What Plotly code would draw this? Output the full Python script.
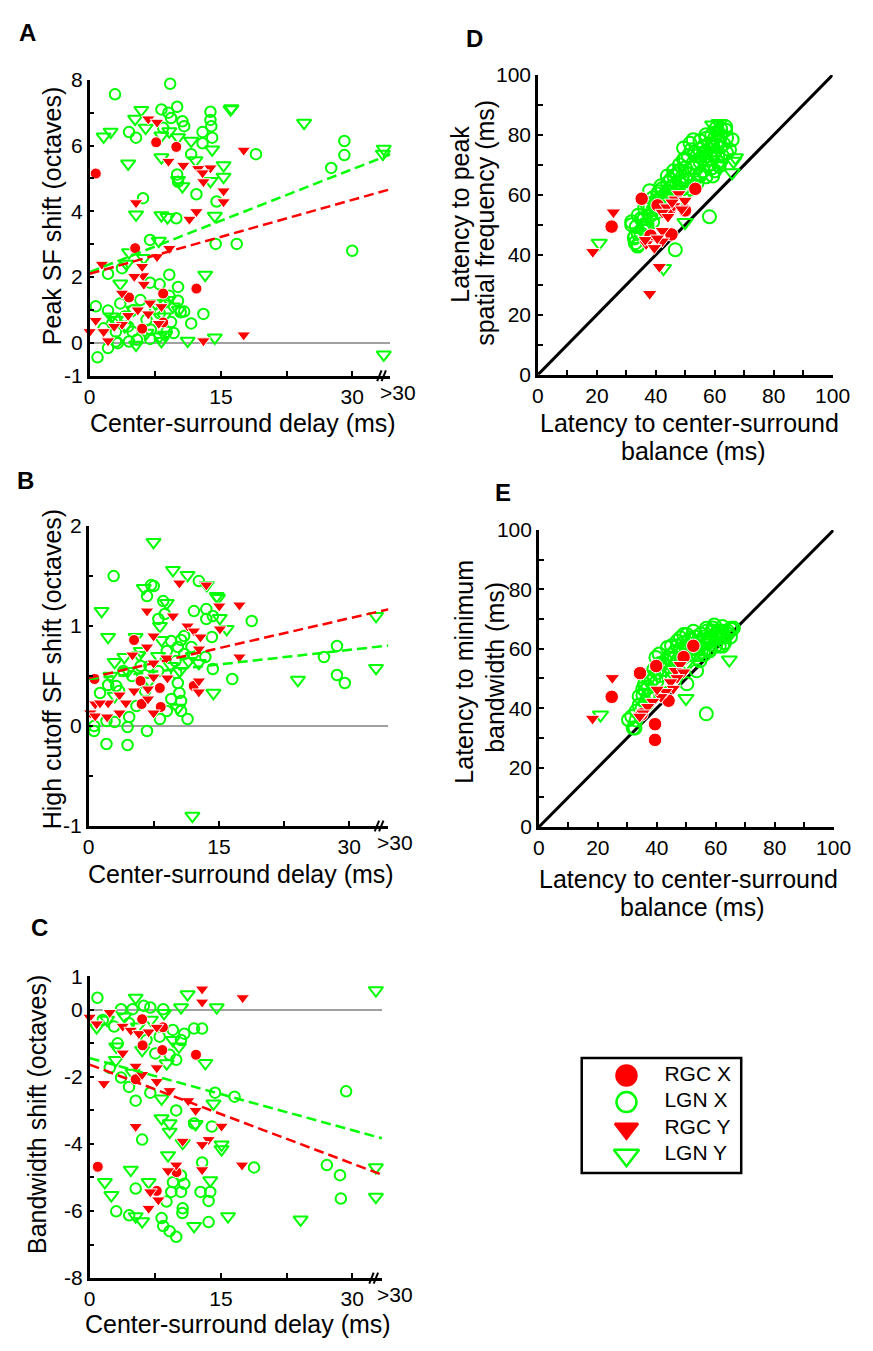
import plotly.graph_objects as go

FONT = "Arial, Liberation Sans, Helvetica, sans-serif"
RED = "#FF0000"
GREEN = "#00FF00"
W, H = 873, 1351

# ---------------- Panel A: Peak SF shift vs center-surround delay ----------------
A_rgcx_x = [0.7, 7.6, 9.9, 5.2, 8.4, 4.5, 12.2, 6.0, 8.4]
A_rgcx_y = [5.15, 6.1, 5.96, 2.88, 1.5, 1.38, 1.65, 0.43, 0.62]
A_rgcy_x = [6.7, 7.7, 9.0, 10.7, 12.4, 13.8, 12.9, 13.0, 15.3, 15.3, 11.4, 12.2, 17.6, 5.3, 9.1, 1.4, 6.0, 7.7,
            6.1, 5.1, 6.2, 3.7, 6.9, 4.4, 6.7, 3.7, 7.9, 0.7, 0.0, 1.6, 2.1, 13.0, 17.6, 5.5, 2.8, 8.2]
A_rgcy_y = [6.81, 6.71, 5.52, 5.40, 5.30, 5.32, 5.17, 4.90, 4.62, 4.29, 3.76, 3.99, 5.86, 4.26, 2.87, 2.39, 2.32, 2.62,
            2.04, 2.02, 1.78, 1.51, 1.21, 0.83, 0.88, 0.56, 0.59, 0.68, 0.34, 0.34, 0.06, 0.06, 0.24, 1.0, 0.5, 1.1]
A_lgnx_x = [2.9, 9.2, 8.2, 10.0, 9.0, 9.3, 10.6, 10.8, 8.4, 13.8, 13.8, 13.9, 12.9, 14.0, 12.9, 11.6, 12.2, 10.0,
            14.5, 10.1, 4.5, 5.3, 6.1, 9.9, 6.9, 14.4, 16.8, 19.0, 2.1, 3.7, 9.1, 10.1, 0.7, 2.1, 10.8, 11.6, 13.0,
            0.9, 2.1, 3.0, 4.5, 5.4, 6.9, 4.9, 3.0, 1.6, 8.8, 9.3, 8.6, 9.1, 10.1, 10.4, 7.5, 8.0, 6.9,
            27.6, 29.1, 29.1, 30.0, 3.2, 4.0, 5.0, 6.5, 3.5, 7.0, 8.0, 2.6, 5.8, 9.6, 4.4]
A_lgnx_y = [7.56, 7.88, 7.10, 7.18, 7.00, 6.84, 6.74, 6.59, 6.54, 7.03, 6.78, 6.59, 6.41, 6.24, 6.07, 5.74, 4.52, 5.12,
            4.30, 4.90, 6.41, 6.24, 4.40, 3.79, 3.13, 3.01, 3.01, 5.74, 2.10, 2.27, 2.07, 1.70, 1.11, 0.98, 0.95, 0.59, 0.88,
            -0.44, -0.16, 0.04, 0.04, 0.09, 0.12, 0.34, 0.34, 0.44, 0.34, 0.63, 1.23, 1.43, 1.28, 0.93, 1.03, 1.78, 1.83,
            5.32, 5.71, 6.14, 2.80, -0.01, 0.8, 1.0, 0.7, 1.2, 0.4, 0.9, 0.6, 1.3, 0.3, 0.5]
A_lgny_x = [1.6, 2.4, 5.9, 5.2, 6.4, 9.1, 8.2, 10.1, 11.6, 16.1, 4.4, 8.2, 12.1, 14.0, 15.3, 15.3, 10.1, 10.6, 13.8,
            5.3, 8.2, 8.9, 14.3, 13.2, 7.9, 4.5, 6.2, 11.2, 14.3, 8.0, 33.6, 33.6, 33.5, 24.5, 16.2,
            5.0, 7.5, 8.5, 9.5, 3.0, 4.0, 6.5, 8.2, 2.5, 9.0, 10.2, 5.3, 8.6, 3.5, 4.2]
A_lgny_y = [6.27, 6.42, 7.08, 6.81, 6.54, 6.43, 6.30, 6.25, 6.14, 7.10, 5.45, 5.64, 5.55, 5.88, 5.40, 5.05, 4.95, 4.76, 4.92,
            3.90, 3.88, 3.82, 3.86, 2.07, 3.10, 2.75, 2.58, 0.06, 0.16, 0.19, -0.36, 5.90, 5.75, 6.69, 7.13,
            1.0, 1.2, 0.8, 1.1, 0.7, 0.5, 0.3, 0.05, 0.8, 1.3, 1.0, -0.06, 0.24, 1.8, 2.4]
A_fit_green = [2.15, 0.1043]   # intercept, slope
A_fit_red = [2.10, 0.0749]

# ---------------- Panel B: High cutoff SF shift ----------------
B_rgcx_x = [0.67, 5.23, 5.97, 8.2, 8.3, 6.1, 12.1]
B_rgcx_y = [0.47, 0.86, 0.45, 0.38, 0.19, 0.22, 0.40]
B_rgcy_x = [10.45, 13.55, 6.72, 9.71, 15.04, 17.36, 11.39, 12.13, 12.88, 15.12, 12.69, 17.36, 7.47, 6.72, 5.04, 7.47,
            8.96, 7.47, 9.07, 12.69, 12.69, 3.55, 5.23, 6.83, 6.83, 2.24, 0.75, 1.31, 4.29, 0.19, 0.75, 2.13, 3.55, 7.47]
B_rgcy_y = [1.43, 1.41, 1.15, 1.10, 1.20, 1.21, 1.00, 0.95, 0.89, 0.97, 0.77, 0.69, 0.90, 0.79, 0.71, 0.63,
            0.68, 0.49, 0.48, 0.45, 0.34, 0.31, 0.35, 0.37, 0.27, 0.23, 0.22, 0.23, 0.23, 0.13, 0.10, 0.09, 0.13, 0.13]
B_lgnx_x = [2.88, 7.2, 6.72, 8.59, 8.77, 8.03, 12.13, 12.69, 13.55, 13.55, 14.3, 14.19, 18.78, 10.64, 10.27, 11.01,
            11.84, 13.44, 14.3, 16.54, 10.08, 10.27, 10.45, 10.64, 9.52, 10.64, 11.39, 8.21, 6.72, 4.67, 2.99, 4.48,
            2.05, 0.64, 0.62, 2.05, 4.48, 2.24, 1.31, 3.17, 4.0, 5.0, 6.0, 7.0, 8.0, 9.0, 9.5, 11.0, 10.0, 3.5, 5.5,
            9.0, 6.5, 7.5, 27.1, 28.6, 28.6, 29.5]
B_lgnx_y = [1.50, 1.41, 1.30, 1.25, 1.12, 1.07, 1.15, 1.45, 1.17, 1.07, 1.10, 0.89, 1.05, 0.86, 0.79, 0.72,
            0.79, 0.69, 0.57, 0.47, 0.53, 0.43, 0.33, 0.25, 0.27, 0.15, 0.07, 0.07, -0.05, 0.09, 0.04, -0.01,
            0.05, 0.00, -0.05, -0.18, -0.19, 0.41, 0.33, 0.40, 0.55, 0.50, 0.60, 0.60, 0.55, 0.75, 0.85, 0.90, 0.65, 0.35, 0.20,
            0.15, 0.35, 1.40, 0.69, 0.80, 0.51, 0.43]
B_lgny_x = [7.47, 9.71, 11.39, 14.75, 1.49, 2.24, 6.35, 2.99, 5.41, 14.37, 8.4, 5.79, 4.11, 12.69, 8.21, 10.27,
            14.9, 15.1, 15.9, 9.0, 24.1, 33.1, 33.1, 11.95, 13.6, 6.0, 8.0, 9.5, 4.5, 7.0, 10.5, 11.5, 3.0, 2.5, 12.0]
B_lgny_y = [1.84, 1.56, 1.51, 1.30, 1.15, 0.89, 1.38, 0.64, 0.89, 0.33, 0.86, 0.71, 0.69, 0.63, 1.00, 0.18,
            1.28, 1.08, 0.97, 1.23, 0.46, 0.58, 1.10, -0.90, 1.41, 0.75, 0.70, 0.60, 0.55, 0.45, 0.55, 0.65, 0.30, 0.50, 0.70]
B_fit_green = [0.47, 0.0097]
B_fit_red = [0.48, 0.0199]

# ---------------- Panel C: Bandwidth shift ----------------
C_rgcx_x = [0.93, 6.0, 8.37, 6.05, 8.3, 12.15, 5.26, 9.93, 7.67]
C_rgcx_y = [-4.68, -0.28, -0.52, -1.06, -1.20, -1.34, -2.07, -4.84, -5.40]
C_rgcy_x = [12.85, 12.85, 17.48, 0.0, 0.81, 2.3, 3.78, 4.7, 5.63, 6.74, 7.67, 3.78, 5.26, 6.0, 7.67, 7.67, 1.63,
            9.14, 11.26, 12.11, 15.07, 5.26, 10.63, 13.59, 12.85, 9.89, 8.96, 12.85, 17.41, 6.93, 7.85, 6.74]
C_rgcy_y = [0.62, 0.23, 0.36, -0.22, -0.42, -0.08, -0.49, -0.61, -0.71, -0.66, -0.52, -1.29, -1.68, -1.93, -1.73, -2.14, -2.20,
            -2.41, -2.71, -3.00, -3.47, -3.48, -3.92, -3.87, -4.02, -4.63, -4.80, -4.77, -4.63, -5.43, -5.67, -5.92]
C_lgnx_x = [0.89, 3.59, 4.9, 6.19, 6.93, 8.41, 12.85, 11.93, 10.81, 10.44, 9.89, 9.14, 2.3, 3.59, 5.26, 6.93, 6.0,
            14.33, 16.56, 9.89, 11.93, 13.96, 12.85, 18.78, 5.26, 3.04, 4.52, 8.22, 8.41, 9.89, 9.14, 10.63, 13.59,
            10.44, 10.81, 9.52, 12.67, 13.78, 13.59, 10.44, 8.78, 9.33, 27.1, 28.6, 28.7, 29.3,
            1.5, 2.8, 4.5, 6.5, 8.0, 9.5, 3.2, 7.5, 10.6, 4.5]
C_lgnx_y = [0.36, 0.02, 0.02, 0.12, 0.07, 0.02, -0.56, -0.56, -0.71, -0.90, -1.49, -1.34, -1.73, -2.02, -2.71, -2.47, -3.87,
            -2.47, -2.59, -3.00, -3.39, -3.48, -4.55, -4.70, -5.33, -6.01, -6.13, -6.21, -6.45, -6.77, -6.60, -5.92, -6.33,
            -5.43, -5.19, -5.14, -5.43, -5.43, -5.70, -4.94, -5.72, -5.43, -4.63, -4.93, -5.63, -2.43,
            -0.3, -0.5, -0.4, -0.9, -0.8, -0.6, -1.0, -1.3, -6.06, -2.3]
C_lgny_x = [5.26, 11.19, 14.52, 10.44, 0.81, 3.04, 13.22, 4.9, 8.22, 14.15, 8.22, 9.14, 9.14, 12.11, 10.63, 15.07,
            15.07, 4.7, 8.96, 1.74, 2.48, 6.74, 13.78, 5.26, 6.0, 11.93, 15.81, 32.7, 32.7, 32.7, 24.1,
            2.0, 4.0, 5.5, 7.0, 8.5, 9.5, 6.0, 8.8, 3.0, 10.2]
C_lgny_y = [0.36, 0.46, 0.07, 0.07, -0.52, -1.10, -1.59, -1.88, -2.65, -2.80, -3.24, -3.39, -3.64, -3.41, -3.97, -4.02,
            -4.16, -4.77, -4.34, -5.14, -5.53, -5.14, -5.09, -6.16, -6.31, -6.45, -6.16, 0.58, -4.70, -5.58, -6.26,
            -0.3, -0.2, -0.5, -0.3, -0.1, -0.9, -1.2, -1.6, -1.5, -1.1]
C_fit_green = [-1.44, -0.0716]
C_fit_red = [-1.635, -0.0983]

# ---------------- Panel D: latency to peak SF vs latency to balance ----------------
D_rgcx_x = [25.0, 35.2, 40.6, 44.5, 53.4, 49.9, 38.2, 45.3]
D_rgcx_y = [49.4, 58.7, 56.5, 54.5, 62.0, 54.8, 46.4, 46.8]
D_rgcy_x = [25.6, 18.6, 47.8, 46.6, 49.9, 46.1, 48.8, 43.7, 42.2, 44.1, 42.2, 42.2, 36.7, 39.5, 41.2, 36.4, 37.9,
            40.5, 45.5]
D_rgcy_y = [54.2, 41.0, 60.3, 58.5, 58.1, 56.3, 55.2, 55.9, 54.1, 52.7, 48.0, 44.5, 43.6, 42.3, 36.0, 45.0, 27.0,
            45.5, 57.5]
D_lgnx_x = [33.4, 32.9, 34.0, 36.2, 37.9, 40.6, 46.6, 58.2, 45.0, 47.2, 49.4, 51.6, 54.9, 57.1, 59.3, 60.9, 63.7,
            65.9, 61.5, 54.9, 52.7, 50.5, 59.3, 62.6, 49.4, 57.1, 47.2, 43.9, 41.7, 34.0, 31.8, 36.7, 38.9, 31.8,
            32.7, 33.8, 46.1, 52.7, 60.4, 63.7, 35, 37, 39, 41, 43, 44, 46, 48, 50, 51, 53, 55, 56, 58, 60, 61, 62,
            64, 56, 54, 52, 50, 48, 42, 40, 38, 45, 57, 59, 62, 60, 44, 36, 34,
            33, 35, 36, 37, 38, 39, 40, 41, 42, 43, 44, 45, 46, 47, 48, 49, 50, 51, 52, 53, 54, 55, 56, 57, 58,
            59, 60, 61, 62, 63, 64, 65, 55, 53, 57, 59, 61, 49, 47, 44]
D_lgnx_y = [49.4, 46.1, 43.4, 55.4, 61.4, 60.3, 41.7, 52.7, 62.5, 66.9, 71.8, 77.2, 75.1, 72.9, 76.7, 80.6, 82.7,
            78.4, 69.6, 66.3, 70.7, 64.7, 66.3, 72.9, 75.6, 78.9, 60.9, 66.3, 63.0, 53.2, 51.0, 48.9, 51.0, 50.0,
            45.6, 42.9, 66.3, 78.4, 82.2, 81.6, 52, 57, 55, 58, 60, 64, 63, 68, 69, 73, 74, 71, 76, 70, 74, 78, 76,
            74, 68, 64, 62, 61, 64, 59, 57, 53, 58, 66, 72, 80, 68, 61, 50, 47,
            44, 47, 52, 50, 56, 59, 54, 61, 62, 57, 59, 65, 68, 63, 70, 66, 72, 67, 75, 69, 73, 78, 72, 80, 77,
            69, 79, 73, 82, 77, 79, 75, 67, 65, 74, 80, 71, 62, 58, 56]
D_lgny_x = [20.8, 49.9, 42.6, 67.0, 65.9, 60.4, 61.5, 66.4, 59.3, 50, 55, 45, 58, 62, 40, 38]
D_lgny_y = [43.9, 50.8, 35.5, 72.4, 67.4, 81.6, 83.8, 71.2, 83.3, 68, 72, 62, 75, 70, 55, 52]

# ---------------- Panel E: latency to minimum bandwidth vs latency to balance ----------------
E_rgcx_x = [24.7, 34.3, 39.8, 52.4, 49.1, 44.0, 39.4, 39.4, 34.8]
E_rgcx_y = [43.8, 51.8, 54.2, 61.0, 57.2, 42.5, 34.6, 29.3, 37.9]
E_rgcy_x = [24.9, 18.2, 47.9, 46.3, 49.1, 46.9, 44.7, 45.6, 43.0, 41.4, 40.1, 38.6, 36.9, 35.3, 34.2]
E_rgcy_y = [50.2, 36.5, 54.6, 52.6, 52.1, 50.2, 48.8, 46.6, 45.5, 43.8, 46.3, 42.2, 40.5, 38.3, 37.2]
E_lgnx_x = [32.0, 31.5, 35.9, 35.3, 37.0, 40.8, 43.6, 46.9, 49.1, 52.4, 56.8, 59.5, 62.3, 65.0, 61.2, 62.3, 57.9,
            54.6, 53.5, 50.2, 56.8, 65.5, 59.0, 30.4, 32.6, 35.3, 39.7, 61.2, 48.0, 50.2,
            34, 36, 38, 40, 42, 44, 46, 48, 50, 52, 54, 56, 58, 60, 62, 63, 55, 51, 47, 43, 39, 37, 33, 45, 53,
            57, 60, 64, 41, 49,
            33, 34, 35, 36, 37, 38, 39, 40, 41, 42, 43, 44, 45, 46, 47, 48, 49, 50, 51, 52, 53, 54, 55, 56, 57,
            58, 59, 60, 61, 62, 63, 64, 65, 66, 58, 56, 54]
E_lgnx_y = [33.3, 37.2, 48.2, 44.4, 50.4, 58.2, 60.4, 62.6, 64.8, 65.9, 66.9, 68.0, 67.5, 66.9, 63.7, 60.9, 59.3,
            56.0, 52.6, 48.2, 38.1, 66.5, 67.0, 36.1, 33.3, 46.6, 57.1, 60.9, 63.7, 64.8,
            41, 46, 49, 52, 55, 57, 59, 60, 61, 63, 62, 64, 63, 65, 64, 62, 59, 58, 56, 53, 50, 44, 39, 61, 60,
            62, 61, 65, 55, 57,
            36, 44, 40, 42, 47, 45, 53, 49, 51, 53, 56, 54, 58, 57, 61, 58, 62, 59, 63, 60, 64, 61, 65, 63, 66,
            64, 66, 64, 66, 66, 64, 66, 64, 67, 60, 58, 58]
E_lgny_x = [20.9, 49.9, 64.6, 45, 50, 55, 58, 42, 38, 53, 60]
E_lgny_y = [37.7, 43.3, 56.3, 52, 55, 60, 62, 46, 42, 58, 63]

# ---------------- ticks / labels ----------------
delay_tickvals = [0, 7.5, 15, 22.5, 30]
delay_ticktext = ["0", "", "15", "", "30"]
A_yticks = [-1, 0, 1, 2, 3, 4, 5, 6, 7, 8]
A_ytext = ["-1", "0", "", "2", "", "4", "", "6", "", "8"]
B_yticks = [-1, -0.5, 0, 0.5, 1, 1.5, 2]
B_ytext = ["-1", "", "0", "", "1", "", "2"]
C_yticks = [-8, -7, -6, -5, -4, -3, -2, -1, 0, 1]
C_ytext = ["-8", "", "-6", "", "-4", "", "-2", "", "0", "1"]
lat_ticks = [0, 10, 20, 30, 40, 50, 60, 70, 80, 90, 100]
lat_text = ["0", "", "20", "", "40", "", "60", "", "80", "", "100"]
legend_names = ["RGC X", "LGN X", "RGC Y", "LGN Y"]

fig = go.Figure()


def add_groups(sfx, rx, ry, cx, cy, tx, ty, gx, gy, big=False):
    cs = 13.5 if big else 11
    ts = 13 if big else 12
    xa, ya = "x" + sfx, "y" + sfx
    common = dict(mode="markers", xaxis=xa, yaxis=ya, showlegend=False, cliponaxis=False, hoverinfo="skip")
    fig.add_trace(go.Scatter(x=cx, y=cy, marker=dict(symbol="circle-open", size=cs - 0.5, color=GREEN,
                                                       line=dict(width=2, color=GREEN)), **common))
    fig.add_trace(go.Scatter(x=gx, y=gy, marker=dict(symbol="triangle-down-open", size=ts + 0.5, color=GREEN,
                                                       line=dict(width=2, color=GREEN)), **common))
    fig.add_trace(go.Scatter(x=rx, y=ry, marker=dict(symbol="circle", size=cs, color=RED,
                                                       line=dict(width=1, color="white")), **common))
    fig.add_trace(go.Scatter(x=tx, y=ty, marker=dict(symbol="triangle-down", size=ts, color=RED,
                                                       line=dict(width=1, color="white")), **common))


def add_fit(sfx, fit, xmax, color):
    xs = [0, xmax]
    ys = [fit[0] + fit[1] * v for v in xs]
    fig.add_trace(go.Scatter(x=xs, y=ys, mode="lines", xaxis="x" + sfx, yaxis="y" + sfx, showlegend=False,
                             hoverinfo="skip", line=dict(color=color, width=2.5, dash="10px,5px")))


add_groups("", A_rgcx_x, A_rgcx_y, A_lgnx_x, A_lgnx_y, A_rgcy_x, A_rgcy_y, A_lgny_x, A_lgny_y)
add_fit("", A_fit_green, 34.8, GREEN)
add_fit("", A_fit_red, 34.8, RED)
add_groups("2", B_rgcx_x, B_rgcx_y, B_lgnx_x, B_lgnx_y, B_rgcy_x, B_rgcy_y, B_lgny_x, B_lgny_y)
add_fit("2", B_fit_green, 34.6, GREEN)
add_fit("2", B_fit_red, 34.6, RED)
add_groups("3", C_rgcx_x, C_rgcx_y, C_lgnx_x, C_lgnx_y, C_rgcy_x, C_rgcy_y, C_lgny_x, C_lgny_y)
add_fit("3", C_fit_green, 33.4, GREEN)
add_fit("3", C_fit_red, 33.4, RED)

for sfx in ["4", "5"]:
    fig.add_trace(go.Scatter(x=[0, 100], y=[0, 100], mode="lines", xaxis="x" + sfx, yaxis="y" + sfx,
                             showlegend=False, hoverinfo="skip", line=dict(color="black", width=3)))
add_groups("4", D_rgcx_x, D_rgcx_y, D_lgnx_x, D_lgnx_y, D_rgcy_x, D_rgcy_y, D_lgny_x, D_lgny_y, big=True)
add_groups("5", E_rgcx_x, E_rgcx_y, E_lgnx_x, E_lgnx_y, E_rgcy_x, E_rgcy_y, E_lgny_x, E_lgny_y, big=True)

# ---------------- custom legend ----------------
leg_rows = [18, 45, 72, 99]
leg_symbols = ["circle", "circle-open", "triangle-down", "triangle-down-open"]
leg_colors = [RED, GREEN, RED, GREEN]
leg_sizes = [20, 20, 20, 22]
for yy, sym, col, sz in zip(leg_rows, leg_symbols, leg_colors, leg_sizes):
    fig.add_trace(go.Scatter(x=[46], y=[yy], mode="markers", xaxis="x6", yaxis="y6", showlegend=False,
                             hoverinfo="skip", cliponaxis=False,
                             marker=dict(symbol=sym, size=sz, color=col, line=dict(width=2.5, color=col))))
fig.add_trace(go.Scatter(x=[85] * 4, y=leg_rows, mode="text", text=legend_names, textposition="middle right",
                         xaxis="x6", yaxis="y6", showlegend=False, hoverinfo="skip", cliponaxis=False,
                         textfont=dict(family=FONT, size=21, color="black")))


def dom_x(a, b):
    return [a / W, b / W]


def dom_y(top, bottom):
    return [1 - bottom / H, 1 - top / H]


axis_common = dict(showline=True, linecolor="black", linewidth=2.5, ticks="inside", ticklen=5, tickwidth=2,
                   tickcolor="black", showgrid=False, zeroline=False, mirror=False,
                   tickfont=dict(family=FONT, size=21, color="black"), tickmode="array")

layout = dict(width=W, height=H, margin=dict(l=0, r=0, t=0, b=0), paper_bgcolor="white", plot_bgcolor="white",
              showlegend=False)

specs = [
    ("", (86, 395), (69, 370), [0, 34.33], [-1, 8], delay_tickvals, delay_ticktext, A_yticks, A_ytext, True),
    ("2", (85, 393), (523, 828), [0, 34.5], [-1, 2], delay_tickvals, delay_ticktext, B_yticks, B_ytext, True),
    ("3", (86, 387), (981, 1288), [0, 33.44], [-8, 1], delay_tickvals, delay_ticktext, C_yticks, C_ytext, True),
    ("4", (547, 850), (64, 369), [0, 100], [0, 100], lat_ticks, lat_text, lat_ticks, lat_text, False),
    ("5", (548, 851), (527, 829), [0, 100], [0, 100], lat_ticks, lat_text, lat_ticks, lat_text, False),
]
for sfx, xd, yd, xr, yr, xtv, xtt, ytv, ytt, zl in specs:
    n = sfx if sfx else ""
    layout["xaxis" + n] = dict(axis_common, domain=dom_x(*xd), range=xr, anchor="y" + n,
                               tickvals=xtv, ticktext=xtt)
    layout["yaxis" + n] = dict(axis_common, domain=dom_y(*yd), range=yr, anchor="x" + n,
                               tickvals=ytv, ticktext=ytt, zeroline=zl, zerolinecolor="#A0A0A0", zerolinewidth=1.5)

layout["xaxis6"] = dict(domain=dom_x(592, 756), range=[0, 164], visible=False, anchor="y6", fixedrange=True)
layout["yaxis6"] = dict(domain=dom_y(1064, 1181), range=[117, 0], visible=False, anchor="x6", fixedrange=True)

fig.update_layout(**layout)

# ---------------- annotations ----------------
ann = []


def txt(text, px, py, size=25, angle=0, bold=False):
    ann.append(dict(text=("<b>%s</b>" % text) if bold else text, x=px / W, y=1 - py / H, xref="paper",
                    yref="paper", showarrow=False, xanchor="center", yanchor="middle", textangle=angle,
                    font=dict(family=FONT, size=size, color="black")))


txt("A", 22, 21, 24, bold=True)
txt("B", 20, 477, 24, bold=True)
txt("C", 34, 931, 24, bold=True)
txt("D", 482, 27, 24, bold=True)
txt("E", 511, 489, 24, bold=True)

txt("Peak SF shift (octaves)", 48, 208, angle=-90)
txt("Center-surround delay (ms)", 244, 418)
txt("High cutoff SF shift (octaves)", 47, 668, angle=-90)
txt("Center-surround delay (ms)", 242, 877)
txt("Bandwidth shift (octaves)", 32, 1122, angle=-90)
txt("Center-surround delay (ms)", 239, 1335)

txt("Latency to peak", 467, 206, angle=-90)
txt("spatial frequency (ms)", 493, 214, angle=-90)
txt("Latency to center-surround", 703, 418)
txt("balance (ms)", 707, 447)
txt("Latency to minimum", 470, 671, angle=-90)
txt("bandwidth (ms)", 502, 667, angle=-90)
txt("Latency to center-surround", 702, 882)
txt("balance (ms)", 706, 911)

# ">30" tick labels
for sfx, xf, yf in [("", 1.026, -0.056), ("2", 1.023, -0.056), ("3", 1.043, -0.055)]:
    ann.append(dict(text=">30", x=xf, y=yf, xref="x%s domain" % sfx, yref="y%s domain" % sfx, showarrow=False,
                    xanchor="center", yanchor="middle", font=dict(family=FONT, size=21, color="black")))

fig.update_layout(annotations=ann)

# axis-break marks and legend box
shapes = []
for sfx, xb in [("", 33.1), ("2", 33.2), ("3", 32.2)]:
    for dx in (0.0, 0.5):
        shapes.append(dict(type="line", xref="x" + sfx, yref="y%s domain" % sfx, x0=xb + dx - 0.25, x1=xb + dx + 0.25,
                           y0=-0.018, y1=0.018, line=dict(color="black", width=2)))
shapes.append(dict(type="rect", xref="x6 domain", yref="y6 domain", x0=0, x1=1, y0=0, y1=1,
                   line=dict(color="black", width=2.5)))
fig.update_layout(shapes=shapes)

fig.write_html("out.html", config={"displayModeBar": False},
               post_script="document.body.style.margin='0px';document.body.style.overflow='hidden';")
